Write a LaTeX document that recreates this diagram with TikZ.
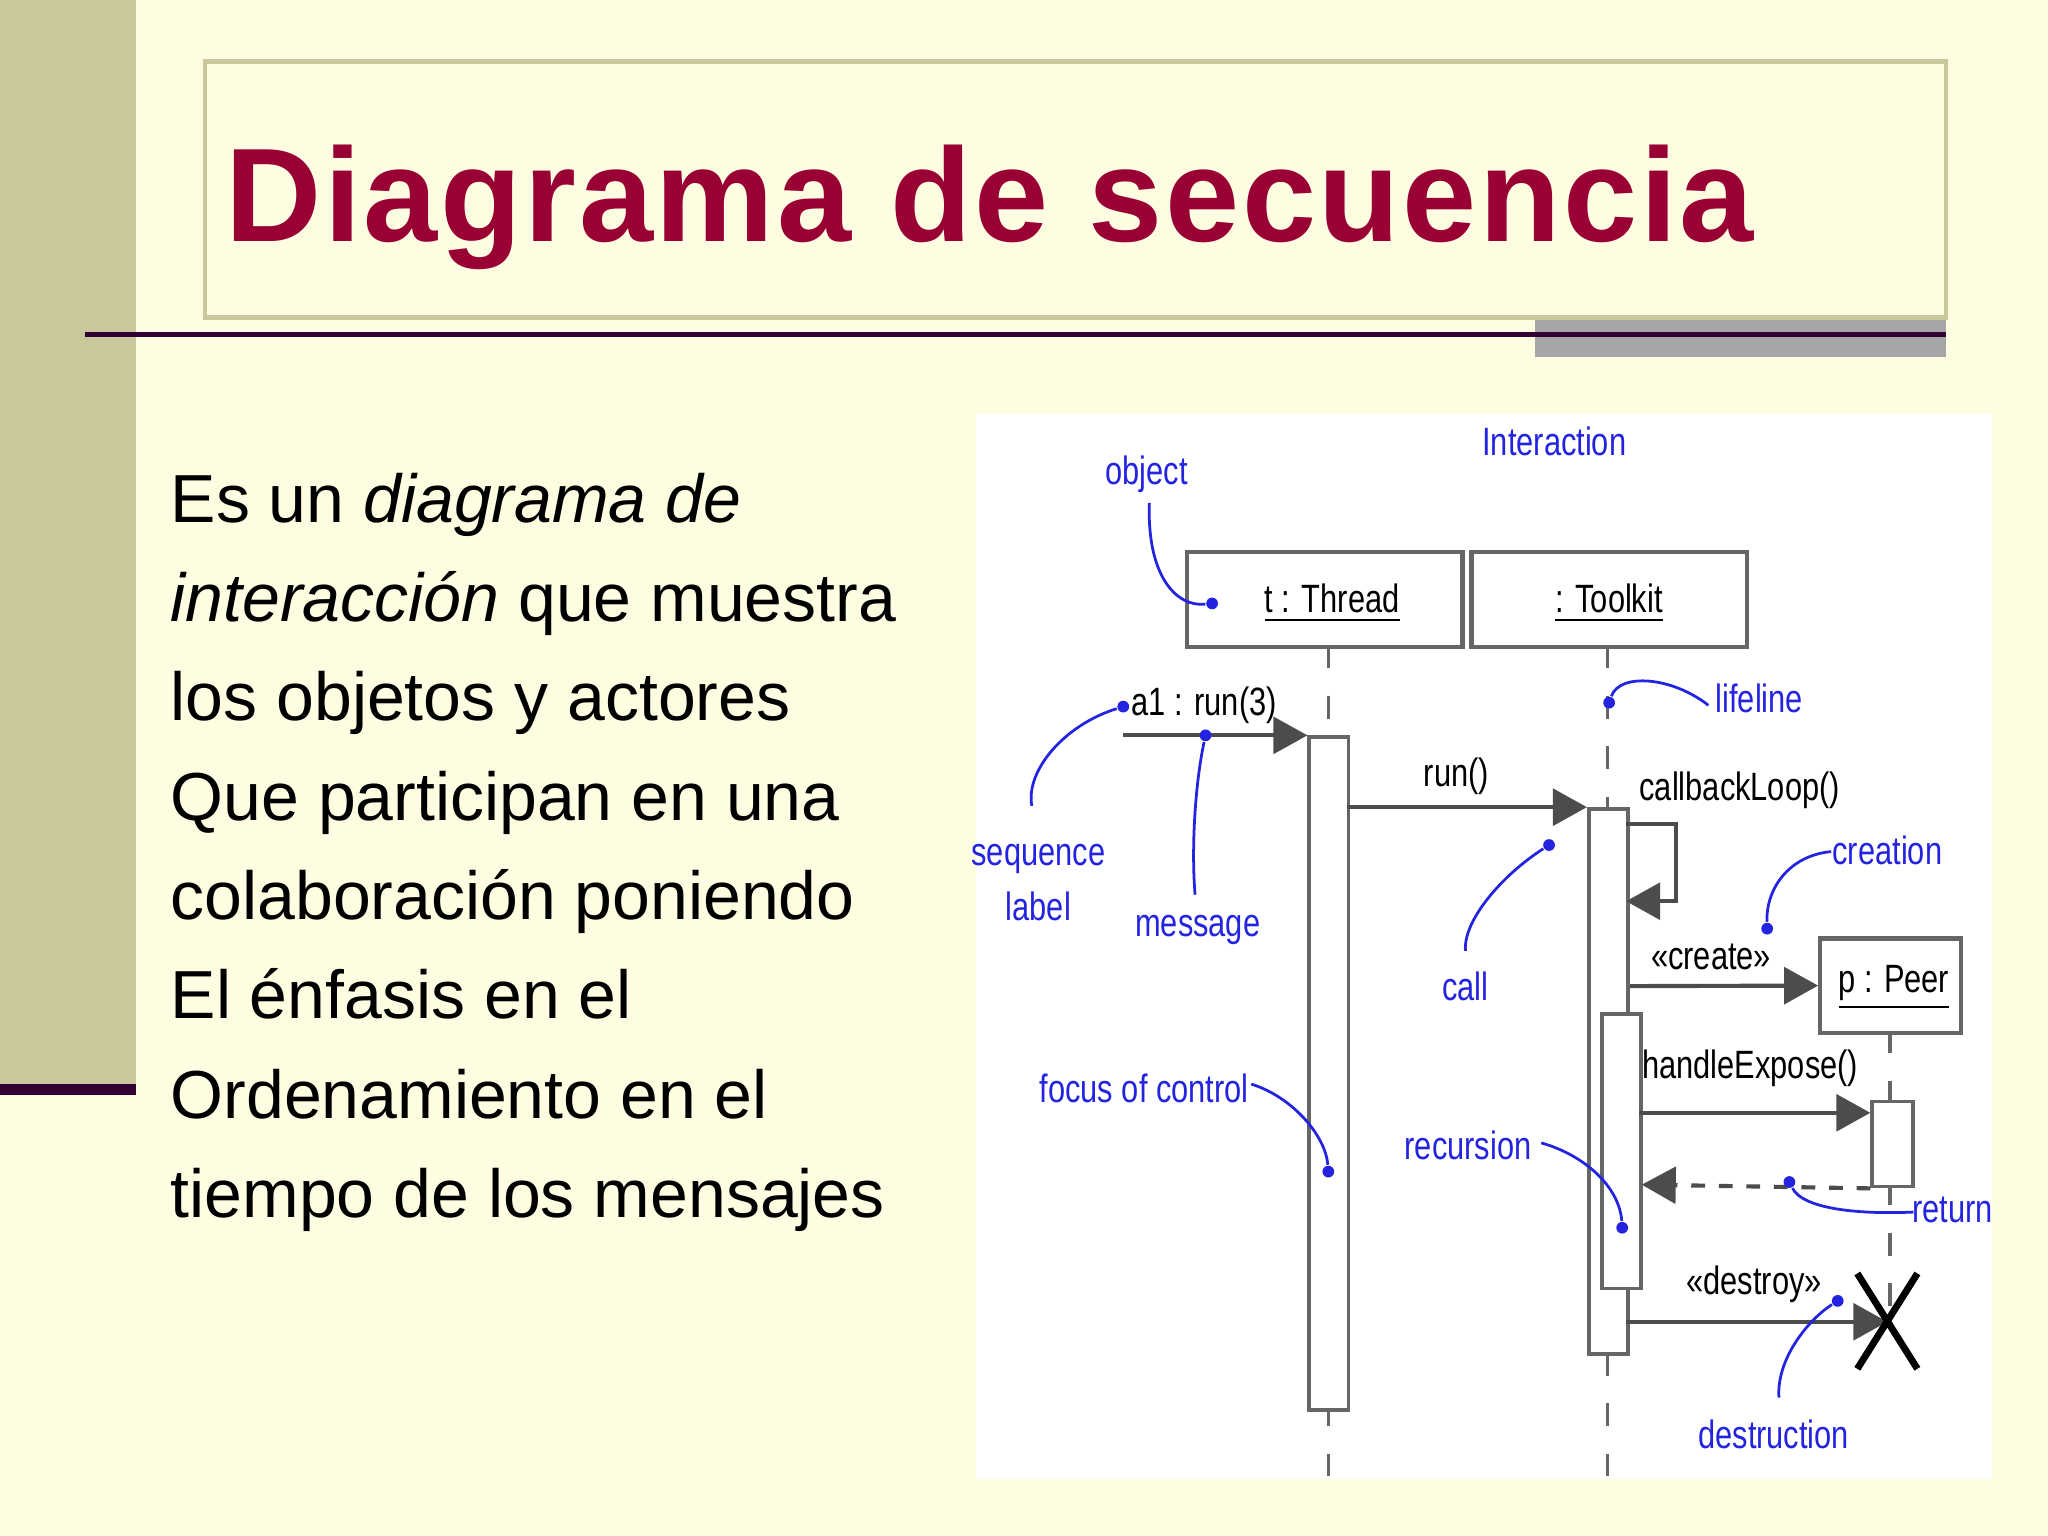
\documentclass[tikz,border=0pt]{standalone}
\usepackage{fontspec}
\setmainfont{Liberation Sans}
\newfontfamily\narrow[FakeStretch=0.78]{Liberation Sans}
\usetikzlibrary{arrows.meta}
\definecolor{bg}{HTML}{FEFDE2}
\definecolor{olive}{HTML}{C9C89B}
\definecolor{plum}{HTML}{330033}
\definecolor{titred}{HTML}{990033}
\definecolor{lblue}{HTML}{2424E0}
\tikzset{
 lbl/.style={font=\narrow\fontsize{8.6pt}{10pt}\selectfont, text=lblue, inner sep=0pt},
 dlbl/.style={font=\narrow\fontsize{8.6pt}{10pt}\selectfont, text=black, inner sep=0pt},
 obj/.style={draw=black!60, line width=0.9pt, fill=white},
 act/.style={draw=black!60, line width=0.8pt, fill=white},
 life/.style={draw=black!60, line width=0.7pt, dash pattern=on 5pt off 6pt},
 msg/.style={draw=black!70, line width=0.9pt, -{Triangle[length=0.26cm,width=0.28cm]}},
 ann/.style={draw=lblue, line width=0.6pt},
 dot/.style={circle, fill=lblue, inner sep=0pt, minimum size=0.09cm},
}
\begin{document}
\begin{tikzpicture}[x=0.01cm,y=-0.01cm]
\useasboundingbox (0,0) rectangle (1568,1176);
\fill[bg] (0,0) rectangle (1568,1176);
\fill[olive] (0,0) rectangle (104,830);
\fill[plum] (0,830) rectangle (104,838);
\draw[olive, line width=1pt] (157,47) rectangle (1490,243);
\node[anchor=base west, inner sep=0pt, text=titred, font=\bfseries\addfontfeature{LetterSpace=2}\fontsize{29pt}{34pt}\selectfont] (title) at (172,185) {Diagrama de secuencia};
\fill[black!35] (1175,245) rectangle (1490,273);
\fill[plum] (65,254) rectangle (1490,258);
\foreach \t [count=\i] in {Es un \textit{diagrama de},\textit{interacción} que muestra,los objetos y actores,Que participan en una,colaboración poniendo,El énfasis en el,Ordenamiento en el,tiempo de los mensajes}
 \node[anchor=base west, inner sep=0pt, font=\fontsize{14.8pt}{16pt}\selectfont] (l\i) at (130,{400+76*(\i-1)}) {\t};
% diagram
\fill[white] (747,317) rectangle (1525,1132);
\draw[life] (1017,494) -- (1017,1130);
\draw[life] (1231,494) -- (1231,1130);
\draw[life] (1447,789) -- (1447,1000);
\node[obj, minimum width=2.11cm, minimum height=0.73cm, anchor=north west] (thr) at (907,421) {};
\node[obj, minimum width=2.11cm, minimum height=0.73cm, anchor=north west] (tk) at (1125,421) {};
\node[dlbl] at (1020,462) {\underline{t : Thread}};
\node[dlbl] at (1232,462) {\underline{: Toolkit}};
\node[act, minimum width=0.30cm, minimum height=5.15cm, anchor=north west] (a1) at (1001,563) {};
\node[act, minimum width=0.30cm, minimum height=4.17cm, anchor=north west] (a2) at (1215,618) {};
\node[act, minimum width=0.30cm, minimum height=2.10cm, anchor=north west] (a3) at (1225,775) {};
\node[obj, minimum width=1.08cm, minimum height=0.72cm, anchor=north west] (peer) at (1392,717) {};
\node[dlbl] at (1450,756) {\underline{p : Peer}};
\node[act, minimum width=0.31cm, minimum height=0.65cm, anchor=north west] (a4) at (1432,842) {};
% messages
\coordinate (m1s) at (860,563);
\draw[msg] (m1s) -- (a1.north west);
\node[dlbl] at (922,540) {a1 : run(3)};
\coordinate (m2s) at (1031,618);
\draw[msg] (m2s) -- (a2.north west);
\node[dlbl] at (1115,594) {run()};
\node[dlbl] at (1332,605) {callbackLoop()};
\coordinate (c1) at (1245,631);\coordinate (c2) at (1283,631);\coordinate (c3) at (1283,690);\coordinate (c4) at (1245,690);
\draw[msg] (c1) -- (c2) -- (c3) -- (c4);
\coordinate (m3s) at (1248,755);
\draw[msg] (m3s) -- (peer.west);
\node[dlbl] at (1310,733) {«create»};
\coordinate (m4s) at (1255,852);
\draw[msg] (m4s) -- (1432,852);
\node[dlbl] at (1340,818) {handleExpose()};
\coordinate (r1) at (1257,907);
\draw[msg, dashed] (a4.south west) -- (r1);
\coordinate (x0) at (1445,1012);
\coordinate (m5s) at (1245,1012);
\draw[msg] (m5s) -- (x0);
\node[dlbl] at (1343,983) {«destroy»};
\draw[black, line width=1.5pt] (1422,975) -- (1468,1048) (1468,975) -- (1422,1048);
% annotations
\node[lbl] at (1190,338) {Interaction};
\node[lbl] (o) at (878,363) {object};
\node[dot] (od) at (928,462) {};
\draw[ann] (880,385) .. controls (878,440) and (900,465) .. (od);
\node[dot] (sd) at (860,541) {};
\node[lbl, align=center] (sl) at (795,676) {sequence\\[2pt]label};
\draw[ann] (sd) .. controls (815,555) and (785,590) .. (790,617);
\node[dot] (md) at (923,563) {};
\node[lbl] (ml) at (917,712) {message};
\draw[ann] (md) .. controls (915,600) and (912,650) .. (915,685);
\node[dot] (ld) at (1232,538) {};
\node[lbl] (ll) at (1347,535) {lifeline};
\draw[ann] (ld) .. controls (1240,515) and (1280,518) .. (1308,540);
\node[dot] (cd) at (1186,647) {};
\node[lbl] (cl) at (1122,755) {call};
\draw[ann] (cd) .. controls (1150,670) and (1120,705) .. (1122,728);
\node[dot] (crd) at (1353,711) {};
\node[lbl] (crl) at (1445,651) {creation};
\draw[ann] (crd) .. controls (1352,680) and (1370,655) .. (1402,652);
\node[lbl] (fl) at (876,833) {focus of control};
\node[dot] (fd) at (1017,897) {};
\draw[ann] (958,830) .. controls (990,840) and (1015,870) .. (fd);
\node[lbl] (rl) at (1124,877) {recursion};
\node[dot] (rd) at (1242,940) {};
\draw[ann] (1180,875) .. controls (1215,885) and (1240,910) .. (rd);
\node[lbl] (retl) at (1495,926) {return};
\node[dot] (retd) at (1370,905) {};
\draw[ann] (1465,928) .. controls (1420,930) and (1380,925) .. (retd);
\node[lbl] (dl) at (1358,1098) {destruction};
\node[dot] (dd) at (1407,996) {};
\draw[ann] (1362,1070) .. controls (1360,1040) and (1385,1010) .. (dd);
\end{tikzpicture}
\end{document}
